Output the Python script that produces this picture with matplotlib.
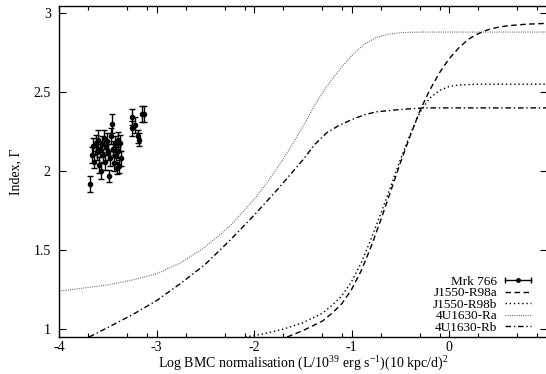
import numpy as np
import matplotlib
matplotlib.use("Agg")
import matplotlib.pyplot as plt
from matplotlib.lines import Line2D
from matplotlib.legend_handler import HandlerLine2D
from matplotlib.ticker import FixedLocator, FormatStrFormatter

plt.rcParams['font.family'] = ['Liberation Serif', 'DejaVu Serif']
plt.rcParams['mathtext.fontset'] = 'custom'
plt.rcParams['mathtext.rm'] = 'Liberation Serif'
plt.rcParams['axes.unicode_minus'] = False

# Mrk 766 data points (log norm, index, error)
mrk_x = [-3.68, -3.66, -3.65, -3.64, -3.62, -3.61, -3.60, -3.59, -3.58, -3.57,
         -3.56, -3.55, -3.54, -3.53, -3.52, -3.51, -3.50, -3.49, -3.48, -3.47,
         -3.46, -3.45, -3.44, -3.43, -3.42, -3.41, -3.40, -3.39, -3.38, -3.37,
         -3.36, -3.25, -3.25, -3.22, -3.19, -3.18, -3.15, -3.13]
mrk_y = [1.92, 2.10, 2.16, 2.06, 2.18, 2.12, 2.20, 2.04, 2.14, 2.00,
         2.17, 2.10, 2.21, 2.06, 2.15, 2.19, 2.12, 1.97, 2.08, 2.22,
         2.30, 2.14, 2.05, 2.17, 2.10, 2.02, 2.20, 2.13, 2.03, 2.18,
         2.08, 2.34, 2.27, 2.29, 2.22, 2.20, 2.36, 2.36]
mrk_err = [0.05, 0.05, 0.05, 0.04, 0.05, 0.05, 0.06, 0.05, 0.05, 0.05,
           0.05, 0.04, 0.05, 0.05, 0.05, 0.05, 0.05, 0.04, 0.05, 0.05,
           0.06, 0.05, 0.05, 0.05, 0.05, 0.04, 0.05, 0.05, 0.04, 0.05,
           0.05, 0.05, 0.05, 0.05, 0.04, 0.04, 0.05, 0.05]

# correlation curves
j1550a_x = [-1.66, -1.5, -1.3, -1.2, -1.1, -1.0, -0.9, -0.8, -0.7, -0.6, -0.5, -0.4,
            -0.3, -0.2, -0.1, 0.0, 0.1, 0.2, 0.3, 0.4, 0.5, 0.6, 0.8, 1.0]
j1550a_y = [0.95, 0.99, 1.05, 1.10, 1.16, 1.25, 1.37, 1.52, 1.69, 1.87, 2.05, 2.22,
            2.38, 2.51, 2.62, 2.71, 2.78, 2.835, 2.87, 2.895, 2.91, 2.92, 2.93, 2.935]

j1550b_x = [-2.09, -1.9, -1.7, -1.5, -1.3, -1.2, -1.1, -1.0, -0.9, -0.8, -0.7, -0.6,
            -0.5, -0.4, -0.3, -0.2, -0.1, 0.0, 0.1, 0.3, 1.0]
j1550b_y = [0.95, 0.97, 1.00, 1.04, 1.10, 1.15, 1.21, 1.30, 1.42, 1.57, 1.73, 1.90,
            2.07, 2.23, 2.37, 2.46, 2.51, 2.535, 2.545, 2.55, 2.55]

u1630a_x = [-4.0, -3.75, -3.5, -3.25, -3.0, -2.75, -2.5, -2.25, -2.0, -1.875, -1.75,
            -1.625, -1.5, -1.375, -1.25, -1.125, -1.0, -0.875, -0.75, -0.625, -0.5,
            -0.375, -0.25, 0.0, 1.0]
u1630a_y = [1.24, 1.26, 1.28, 1.31, 1.35, 1.42, 1.52, 1.65, 1.82, 1.92, 2.03,
            2.15, 2.28, 2.42, 2.54, 2.64, 2.73, 2.80, 2.845, 2.866, 2.876,
            2.879, 2.88, 2.88, 2.88]

u1630b_x = [-3.69, -3.5, -3.25, -3.0, -2.75, -2.5, -2.25, -2.0, -1.75, -1.625, -1.5,
            -1.375, -1.25, -1.125, -1.0, -0.875, -0.75, -0.5, -0.25, 1.0]
u1630b_y = [0.95, 1.01, 1.09, 1.18, 1.29, 1.41, 1.56, 1.72, 1.89, 1.98, 2.07,
            2.17, 2.245, 2.29, 2.325, 2.355, 2.375, 2.39, 2.40, 2.40]

fig = plt.figure(figsize=(5.46, 3.74), dpi=100)
ax = fig.add_axes([59 / 546, 37 / 374, 487.5 / 546, 331 / 374])

ax.errorbar(mrk_x, mrk_y, yerr=mrk_err, fmt='o', color='black', ms=3,
            elinewidth=1, capsize=2.5, capthick=1)
ax.plot(j1550a_x, j1550a_y, color='black', lw=1, dashes=(4, 2.5))
ax.plot(j1550b_x, j1550b_y, color='black', lw=1, dashes=(1, 2))
ax.plot(u1630a_x, u1630a_y, color='#555555', lw=0.8, dashes=(0.8, 1.2))
ax.plot(u1630b_x, u1630b_y, color='black', lw=1, dashes=(4, 2, 1, 2))

ax.set_xlim(-4, 1)
ax.set_ylim(0.95, 3.045)
ax.set_xticks([-4, -3, -2, -1, 0])
minor = [n + np.log10(m) for n in range(-4, 1) for m in (2, 5, 8)]
ax.xaxis.set_minor_locator(FixedLocator(minor))
ax.set_yticks([1, 1.5, 2, 2.5, 3])
ax.yaxis.set_major_formatter(FormatStrFormatter('%g'))
ax.tick_params(which='both', direction='in', top=True, right=True, labelsize=10)
ax.tick_params(which='major', length=5, width=0.8, pad=6)
ax.tick_params(axis='x', which='major', pad=3)
ax.tick_params(which='minor', length=3, width=0.8)
for s in ax.spines.values():
    s.set_linewidth(1)

ax.set_xlabel("Log BMC normalisation (L/10$^{39}$ erg s$^{-1}$)(10 kpc/d)$^2$", fontsize=10, labelpad=-1)
ax.set_ylabel("Index, Γ", fontsize=10, labelpad=8)

# legend in gnuplot style
mrk_line = Line2D([], [], color='black', lw=1, marker='|', ms=5, mew=1)
mrk_pt = Line2D([], [], color='black', ls='none', marker='o', ms=2.5)
handles = [(mrk_line, mrk_pt),
           Line2D([], [], color='black', lw=1, dashes=(4, 2.5)),
           Line2D([], [], color='black', lw=1, dashes=(1, 2)),
           Line2D([], [], color='#555555', lw=0.8, dashes=(0.8, 1.2)),
           Line2D([], [], color='black', lw=1, dashes=(4, 2, 1, 2))]
labels = ["Mrk 766", "J1550-R98a", "J1550-R98b", "4U1630-Ra", "4U1630-Rb"]
ax.legend(handles, labels, loc='lower right', bbox_to_anchor=(535 / 546, 40 / 374),
          bbox_transform=fig.transFigure, frameon=False, markerfirst=False,
          fontsize=9.5, numpoints=2, handlelength=2.6, handletextpad=0.25,
          labelspacing=-0.05, borderpad=0, borderaxespad=0,
          handler_map={mrk_pt: HandlerLine2D(numpoints=1)})

fig.savefig("out.png", dpi=100)
